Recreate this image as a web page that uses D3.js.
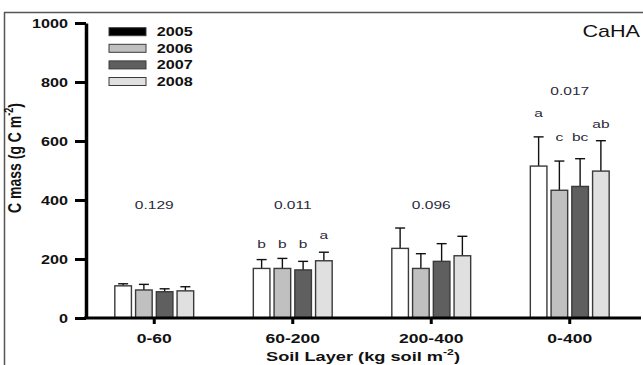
<!DOCTYPE html>
<html>
<head>
<meta charset="utf-8">
<script src="https://cdn.jsdelivr.net/npm/d3@7"></script>
<style>
  html, body { margin: 0; padding: 0; background: #fff; }
  svg { display: block; font-family: "Liberation Sans", Arial, sans-serif; }
</style>
</head>
<body>
<svg id="chart" width="643" height="365"></svg>
<script>
// ---- data ----
const categories = ["0-60", "60-200", "200-400", "0-400"];
const years = ["2005", "2006", "2007", "2008"];
const means = {
  "2005": [109, 168, 236, 515],
  "2006": [95, 168, 168, 433],
  "2007": [89, 163, 192, 446],
  "2008": [92, 194, 211, 498]
};
const errTops = {
  "2005": [116, 198, 305, 614],
  "2006": [114, 202, 218, 532],
  "2007": [99, 192, 252, 540],
  "2008": [106, 223, 277, 601]
};
const pValues = ["0.129", "0.011", "0.096", "0.017"];
const pValueLevel = [371, 371, 371, 756];
const letters = {
  "2005": ["", "b", "", "a"],
  "2006": ["", "b", "", "c"],
  "2007": ["", "b", "", "bc"],
  "2008": ["", "a", "", "ab"]
};
const letterLevel = {
  "2005": [null, 236, null, 680],
  "2006": [null, 236, null, 599],
  "2007": [null, 236, null, 599],
  "2008": [null, 268, null, 643]
};
const yTicks = [0, 200, 400, 600, 800, 1000];
const barFill = { "2005": "#ffffff", "2006": "#c0c0c0", "2007": "#5f5f5f", "2008": "#e0e0e0" };
const legendFill = { "2005": "#000000", "2006": "#c0c0c0", "2007": "#5f5f5f", "2008": "#e0e0e0" };

// ---- layout ----
const SX = 1.35; // horizontal stretch of text seen in the reference
const svg = d3.select("#chart");
const y = d3.scaleLinear().domain([0, 1000]).range([318, 23]);
const x0 = d3.scaleBand().domain(categories).range([85, 639]).padding(0);
const inner = d3.scaleBand().domain(years).range([-41.5, 41.5]).paddingInner(0.2).paddingOuter(0.1);

function sText(g, x, yy, str, anchor, size, weight, fill) {
  return g.append("text")
    .attr("transform", `translate(${x},${yy}) scale(${SX},1)`)
    .attr("text-anchor", anchor)
    .attr("font-size", size)
    .attr("font-weight", weight)
    .attr("fill", fill)
    .text(str);
}

// frame
svg.append("line").attr("x1", 4).attr("x2", 643).attr("y1", 12.5).attr("y2", 12.5)
  .attr("stroke", "#555").attr("stroke-width", 1.5);
svg.append("line").attr("x1", 4.5).attr("x2", 4.5).attr("y1", 12).attr("y2", 365)
  .attr("stroke", "#555").attr("stroke-width", 1.5);

// bars
const groups = svg.append("g").selectAll("g").data(categories).join("g")
  .attr("transform", d => `translate(${x0(d) + x0.bandwidth() / 2},0)`);

groups.each(function(cat, ci) {
  const g = d3.select(this);
  years.forEach(yr => {
    const bx = inner(yr), bw = inner.bandwidth();
    const cx = bx + bw / 2;
    // error bar
    g.append("line").attr("x1", cx).attr("x2", cx)
      .attr("y1", y(means[yr][ci])).attr("y2", y(errTops[yr][ci]))
      .attr("stroke", "#111").attr("stroke-width", 1.4);
    g.append("line").attr("x1", cx - 5).attr("x2", cx + 5)
      .attr("y1", y(errTops[yr][ci])).attr("y2", y(errTops[yr][ci]))
      .attr("stroke", "#111").attr("stroke-width", 1.4);
    g.append("rect")
      .attr("x", bx).attr("width", bw)
      .attr("y", y(means[yr][ci])).attr("height", y(0) - y(means[yr][ci]))
      .attr("fill", barFill[yr]).attr("stroke", "#3a3a3a").attr("stroke-width", 1.4);
    if (letters[yr][ci]) {
      sText(g, cx, y(letterLevel[yr][ci]), letters[yr][ci], "middle", 11.5, "normal", "#2a2a3a");
    }
  });
  sText(g, 0, y(pValueLevel[ci]), pValues[ci], "middle", 11.5, "normal", "#2a2a3a");
});

// y axis
const yAxis = svg.append("g").attr("transform", "translate(86,0)")
  .call(d3.axisLeft(y).tickValues(yTicks).tickSize(11).tickSizeOuter(0).tickFormat(d3.format("d")));
yAxis.select(".domain").attr("stroke", "#000").attr("stroke-width", 3.5);
yAxis.selectAll(".tick line").attr("stroke", "#000").attr("stroke-width", 3);
yAxis.selectAll(".tick text")
  .attr("x", -13.3).attr("dy", "0.36em")
  .attr("transform", `scale(${SX},1)`)
  .attr("font-size", 12).attr("font-weight", "bold").attr("fill", "#111")
  .attr("font-family", "Liberation Sans, Arial, sans-serif");

// x axis
const xAxis = svg.append("g").attr("transform", "translate(0,318)")
  .call(d3.axisBottom(x0).tickSize(6).tickSizeOuter(0));
xAxis.select(".domain").remove();
svg.append("line").attr("x1", 84).attr("x2", 641).attr("y1", 318).attr("y2", 318)
  .attr("stroke", "#000").attr("stroke-width", 3);
xAxis.selectAll(".tick line").attr("stroke", "#000").attr("stroke-width", 3);
xAxis.selectAll(".tick text").remove();
xAxis.selectAll(".tick").each(function(d) {
  sText(d3.select(this), 0, 25.3, d, "middle", 13, "bold", "#111");
});

// axis titles
const xt = svg.append("text")
  .attr("transform", `translate(363,361) scale(${SX},1)`)
  .attr("text-anchor", "middle").attr("font-size", 13.5).attr("font-weight", "bold").attr("fill", "#111");
xt.append("tspan").text("Soil Layer (kg soil m");
xt.append("tspan").attr("font-size", 9).attr("dy", -6).text("-2");
xt.append("tspan").attr("dy", 6).text(")");

const yt = svg.append("text")
  .attr("transform", `translate(21,158) scale(${SX},1) rotate(-90)`)
  .attr("text-anchor", "middle").attr("font-size", 14).attr("font-weight", "bold").attr("fill", "#111");
yt.append("tspan").text("C mass (g C m");
yt.append("tspan").attr("font-size", 9).attr("dy", -6).text("-2");
yt.append("tspan").attr("dy", 6).text(")");

// site label
sText(svg, 640, 37, "CaHA", "end", 16, "normal", "#111");

// legend
const leg = svg.append("g");
years.forEach((yr, i) => {
  const top = 27.7 + i * 16.6;
  leg.append("rect").attr("x", 109).attr("y", top).attr("width", 37).attr("height", 8)
    .attr("fill", legendFill[yr]).attr("stroke", "#3a3a3a").attr("stroke-width", 1);
  sText(leg, 156.7, top + 8.2, yr, "start", 12, "bold", "#111");
});
</script>
</body>
</html>
